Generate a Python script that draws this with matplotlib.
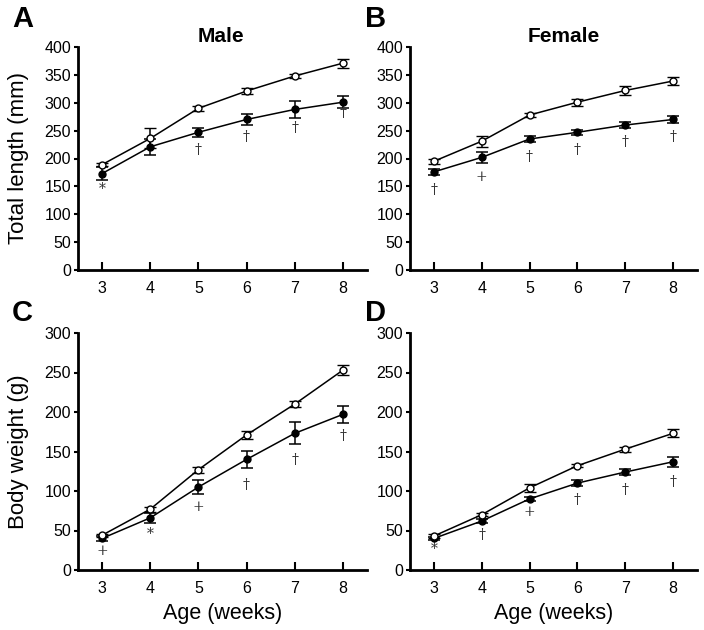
import matplotlib
matplotlib.use("Agg")
import matplotlib.pyplot as plt

plt.rcParams['font.family'] = ['Liberation Sans', 'DejaVu Sans']

weeks = [3, 4, 5, 6, 7, 8]

# Panel A - male total length (mm)
male_len_open = [189, 236, 290, 321, 348, 371]
male_len_open_err = [3, 18, 5, 6, 4, 8]
male_len_fill = [173, 221, 247, 270, 288, 301]
male_len_fill_err = [12, 14, 8, 10, 16, 11]
male_len_marks = ['*', '', '†', '†', '†', '†']
male_len_mark_y = [146, 0, 215, 239, 254, 282]

# Panel B - female total length (mm)
fem_len_open = [195, 231, 278, 301, 322, 339]
fem_len_open_err = [5, 10, 4, 6, 8, 8]
fem_len_fill = [176, 202, 235, 247, 260, 270]
fem_len_fill_err = [5, 10, 5, 5, 6, 6]
fem_len_marks = ['†', '+', '†', '†', '†', '†']
fem_len_mark_y = [143, 167, 203, 215, 230, 239]

# Panel C - male body weight (g)
male_wt_open = [44, 77, 127, 171, 210, 253]
male_wt_open_err = [2, 3, 4, 5, 4, 6]
male_wt_fill = [40, 66, 105, 140, 173, 197]
male_wt_fill_err = [3, 6, 9, 11, 14, 11]
male_wt_marks = ['+', '*', '+', '†', '†', '†']
male_wt_mark_y = [24, 46, 80, 108, 139, 169]

# Panel D - female body weight (g)
fem_wt_open = [43, 70, 104, 132, 153, 173]
fem_wt_open_err = [2, 2, 5, 2, 3, 5]
fem_wt_fill = [40, 62, 90, 110, 124, 137]
fem_wt_fill_err = [2, 2, 3, 4, 4, 6]
fem_wt_marks = ['*', '†', '+', '†', '†', '†']
fem_wt_mark_y = [27, 44, 73, 89, 101, 112]

fig = plt.figure(figsize=(7.04, 6.3), dpi=100)

# axes rectangles in figure fractions
rects = {
    'A': [78 / 704, 1 - 270 / 630, 289 / 704, 223 / 630],
    'B': [410 / 704, 1 - 270 / 630, 287 / 704, 223 / 630],
    'C': [78 / 704, 1 - 570 / 630, 289 / 704, 237 / 630],
    'D': [410 / 704, 1 - 570 / 630, 287 / 704, 237 / 630],
}

panels = [
    ('A', male_len_open, male_len_open_err, male_len_fill, male_len_fill_err,
     male_len_marks, male_len_mark_y, 400),
    ('B', fem_len_open, fem_len_open_err, fem_len_fill, fem_len_fill_err,
     fem_len_marks, fem_len_mark_y, 400),
    ('C', male_wt_open, male_wt_open_err, male_wt_fill, male_wt_fill_err,
     male_wt_marks, male_wt_mark_y, 300),
    ('D', fem_wt_open, fem_wt_open_err, fem_wt_fill, fem_wt_fill_err,
     fem_wt_marks, fem_wt_mark_y, 300),
]

for name, op, ope, fi, fie, marks, mark_y, ymax in panels:
    ax = fig.add_axes(rects[name])
    # filled series (treated)
    ax.errorbar(weeks, fi, yerr=fie, color='black', lw=1.1, marker='o',
                markersize=5, mfc='black', mec='black', capsize=4,
                elinewidth=1.1, capthick=1.1, zorder=3)
    # open series (control)
    ax.errorbar(weeks, op, yerr=ope, color='black', lw=1.1, marker='o',
                markersize=5, mfc='white', mec='black', mew=1.0, capsize=4,
                elinewidth=1.1, capthick=1.1, zorder=4)
    for x, m, y in zip(weeks, marks, mark_y):
        if m:
            ax.text(x, y, m, ha='center', va='center', fontsize=10,
                    family='DejaVu Serif', color='#333333')

    ax.set_xlim(2.5, 8.5)
    ax.set_ylim(0, ymax)
    ax.set_xticks(weeks)
    ax.set_yticks(range(0, ymax + 1, 50))
    ax.spines['top'].set_visible(False)
    ax.spines['right'].set_visible(False)
    ax.spines['left'].set_linewidth(2)
    ax.spines['bottom'].set_linewidth(2)
    ax.tick_params(axis='x', direction='in', length=6, width=1.5,
                   labelsize=11.5, pad=8)
    ax.tick_params(axis='y', direction='out', length=3, width=1.5,
                   labelsize=11.5, pad=2)

    if name == 'A':
        ax.set_ylabel('Total length (mm)', fontsize=16)
        ax.yaxis.set_label_coords(-0.17, 0.5)
    if name == 'C':
        ax.set_ylabel('Body weight (g)', fontsize=16)
        ax.yaxis.set_label_coords(-0.17, 0.5)
    if name in ('C', 'D'):
        ax.set_xlabel('Age (weeks)', fontsize=15.5, labelpad=5)

# column titles
fig.text(221 / 704, 1 - 37 / 630, 'Male', fontsize=15, fontweight='bold',
         ha='center', va='center')
fig.text(564 / 704, 1 - 37 / 630, 'Female', fontsize=15, fontweight='bold',
         ha='center', va='center')

# panel letters
fig.text(12 / 704, 1 - 19 / 630, 'A', fontsize=21, fontweight='bold', va='center')
fig.text(365 / 704, 1 - 19 / 630, 'B', fontsize=21, fontweight='bold', va='center')
fig.text(12 / 704, 1 - 313 / 630, 'C', fontsize=21, fontweight='bold', va='center')
fig.text(365 / 704, 1 - 313 / 630, 'D', fontsize=21, fontweight='bold', va='center')

fig.savefig('out.png', dpi=100)
